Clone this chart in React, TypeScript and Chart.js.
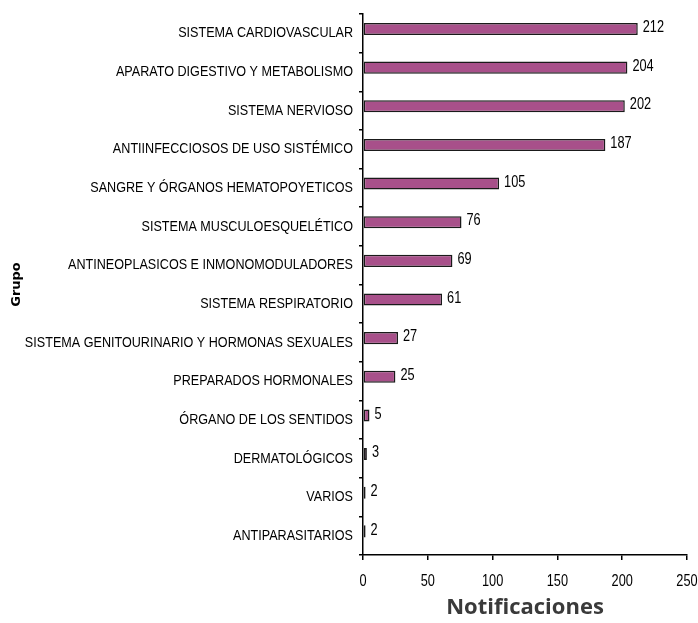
import React, { useEffect, useRef } from "react";
import { Chart, registerables } from "chart.js";

Chart.register(...registerables);

// Notifications per therapeutic group
const groups: string[] = [
  "SISTEMA CARDIOVASCULAR",
  "APARATO DIGESTIVO Y METABOLISMO",
  "SISTEMA NERVIOSO",
  "ANTIINFECCIOSOS DE USO SISTÉMICO",
  "SANGRE Y ÓRGANOS HEMATOPOYETICOS",
  "SISTEMA MUSCULOESQUELÉTICO",
  "ANTINEOPLASICOS E INMONOMODULADORES",
  "SISTEMA RESPIRATORIO",
  "SISTEMA GENITOURINARIO Y HORMONAS SEXUALES",
  "PREPARADOS HORMONALES",
  "ÓRGANO DE LOS SENTIDOS",
  "DERMATOLÓGICOS",
  "VARIOS",
  "ANTIPARASITARIOS",
];

const notificaciones: number[] = [212, 204, 202, 187, 105, 76, 69, 61, 27, 25, 5, 3, 2, 2];

// empty companion series so the bar sits in the upper half of its row
const spacer: (number | null)[] = groups.map(() => null);

const xTicks: number[] = [0, 50, 100, 150, 200, 250];

const FAMILY = "'Liberation Sans', Arial, sans-serif";

// draws text squeezed horizontally for a narrow sans look
function narrowText(
  ctx: CanvasRenderingContext2D,
  text: string,
  x: number,
  y: number,
  align: CanvasTextAlign,
  size: number,
  squeeze: number
) {
  ctx.save();
  ctx.translate(x, y);
  ctx.scale(squeeze, 1);
  ctx.font = `${size}px ${FAMILY}`;
  ctx.fillStyle = "#000";
  ctx.textAlign = align;
  ctx.textBaseline = "middle";
  ctx.fillText(text, 0, 0);
  ctx.restore();
}

const narrowLabels = {
  id: "narrowLabels",
  afterDraw(chart: any) {
    const { ctx } = chart;
    const xScale = chart.scales.x;
    const yScale = chart.scales.y;

    // category names, right-aligned next to the vertical axis
    groups.forEach((g, i) => {
      narrowText(ctx, g, yScale.right - 10, yScale.getPixelForValue(i), "right", 15, 0.84);
    });

    // value axis numbers
    xTicks.forEach((v) => {
      narrowText(ctx, String(v), xScale.getPixelForValue(v), xScale.top + 26, "center", 17, 0.75);
    });

    // value at the end of each bar
    const meta = chart.getDatasetMeta(0);
    meta.data.forEach((bar: any, i: number) => {
      narrowText(ctx, String(notificaciones[i]), bar.x + 5, bar.y - 1.5, "left", 17, 0.75);
    });
  },
};

export default function App() {
  const canvasRef = useRef<HTMLCanvasElement | null>(null);

  useEffect(() => {
    if (!canvasRef.current) return;
    const chart = new Chart(canvasRef.current, {
      type: "bar",
      data: {
        labels: groups,
        datasets: [
          {
            label: "Notificaciones",
            data: notificaciones,
            backgroundColor: "#a8508a",
            borderColor: "#1a1a1a",
            borderWidth: 1.5,
            borderSkipped: false,
            categoryPercentage: 0.446,
            barPercentage: 1.4,
          },
          {
            label: "",
            data: spacer,
            backgroundColor: "rgba(0,0,0,0)",
            borderWidth: 0,
            categoryPercentage: 0.446,
            barPercentage: 1.4,
          },
        ],
      },
      options: {
        indexAxis: "y",
        animation: false,
        responsive: false,
        layout: { padding: { top: 14, right: 11, bottom: 0, left: 0 } },
        plugins: {
          legend: { display: false },
          tooltip: { enabled: false },
        },
        scales: {
          x: {
            type: "linear",
            min: 0,
            max: 250,
            afterBuildTicks: (scale: any) => {
              scale.ticks = xTicks.map((v) => ({ value: v }));
            },
            afterFit: (scale: any) => {
              scale.height = 68;
              scale.paddingLeft = 0;
              scale.paddingRight = 0;
            },
            grid: {
              drawOnChartArea: false,
              drawTicks: true,
              tickLength: 5,
              color: "#000",
              lineWidth: 1.5,
            },
            border: { display: true, color: "#000", width: 1.5 },
            ticks: { display: false },
            title: {
              display: true,
              text: "Notificaciones",
              color: "#3a3a3a",
              font: { family: "'Open Sans', sans-serif", size: 22, weight: "bold" },
              padding: { top: 0, bottom: 2 },
            },
          },
          y: {
            afterFit: (scale: any) => {
              scale.width = 363;
              scale.paddingTop = 0;
              scale.paddingBottom = 0;
            },
            grid: {
              drawOnChartArea: false,
              drawTicks: true,
              tickLength: 4,
              color: "#000",
              lineWidth: 1.5,
              offset: true,
            },
            border: { display: true, color: "#000", width: 1.5 },
            ticks: { display: false, autoSkip: false },
            title: {
              display: true,
              text: "Grupo",
              color: "#000",
              font: { family: "'DejaVu Sans', sans-serif", size: 13, weight: "bold" },
              padding: { top: 9, bottom: 0 },
            },
          },
        },
      },
      plugins: [narrowLabels],
    });
    return () => chart.destroy();
  }, []);

  return (
    <div style={{ position: "fixed", left: 0, top: 0, width: 698, height: 623, background: "#fff" }}>
      <canvas ref={canvasRef} width={698} height={623} style={{ display: "block" }} />
    </div>
  );
}
